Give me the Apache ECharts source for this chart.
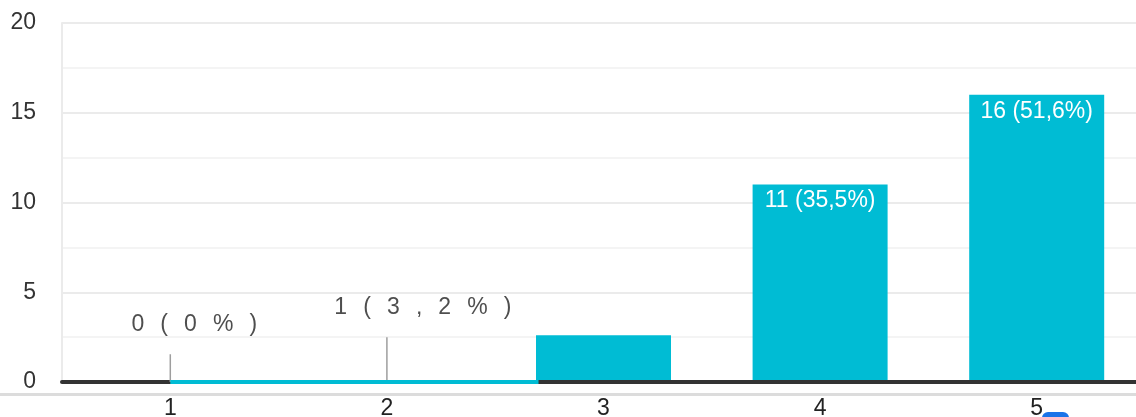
<!DOCTYPE html>
<html>
<head>
<meta charset="utf-8">
<script src="https://cdn.jsdelivr.net/npm/echarts@6/dist/echarts.min.js"></script>
<style>
html,body{margin:0;padding:0;background:#fff;}
#chart{width:1136px;height:417px;}
</style>
</head>
<body>
<div id="chart"></div>
<script>
// ---- data ----
const categories = ['1', '2', '3', '4', '5'];
const barValues = [0, 0, 2.6, 11, 16];            // drawn bar heights
const barLabels = ['', '', '', '11 (35,5%)', '16 (51,6%)'];
const noteTexts = ['0 ( 0 % )', '1 ( 3 , 2 % )'];  // annotation labels on categories 1 and 2
const noteIndex = [0, 1];
const noteStemTops = [1.55, 2.5];
const cyanBaseSpan = [0, 1.7];                     // cyan stroke along the baseline (category index units)
const yTicks = [0, 5, 10, 15, 20];

const CYAN = '#00bcd4';
const FONT = 'Arial, "Liberation Sans", sans-serif';
const spaced = s => s.replace(/ /g, '\u2002\u2009');

const chart = echarts.init(document.getElementById('chart'), null, {renderer: 'canvas'});

const stemSeries = noteIndex.map((ix, k) => ({
  type: 'line',
  xAxisIndex: 1,
  data: [[ix, 0], [ix, noteStemTops[k]]],
  symbol: 'none',
  silent: true,
  lineStyle: {color: '#9e9e9e', width: 1.5},
  z: 11,
  animation: false
}));

const option = {
  animation: false,
  backgroundColor: '#fff',
  grid: {left: 62, top: 23, width: 1083, bottom: 35, containLabel: false, outerBoundsMode: 'none'},
  xAxis: [
    {
      type: 'category',
      data: categories,
      z: 10,
      axisLine: {show: true, lineStyle: {color: '#333', width: 4}},
      axisTick: {show: false},
      axisLabel: {fontSize: 23, color: '#222', margin: 15, fontFamily: FONT},
      splitLine: {show: false}
    },
    {
      type: 'value',
      min: -0.5,
      max: 4.5,
      show: false,
      splitLine: {show: false}
    }
  ],
  yAxis: {
    type: 'value',
    min: yTicks[0],
    max: yTicks[yTicks.length - 1],
    interval: yTicks[1] - yTicks[0],
    axisLine: {show: true, onZero: false, lineStyle: {color: '#ebebeb', width: 2}},
    axisTick: {show: false},
    axisLabel: {fontSize: 23, color: '#333', margin: 26, fontFamily: FONT},
    splitLine: {show: true, lineStyle: {color: '#ebebeb', width: 2}},
    minorTick: {show: false, splitNumber: 2},
    minorSplitLine: {show: true, lineStyle: {color: '#f4f4f4', width: 2}}
  },
  series: [
    {
      type: 'bar',
      xAxisIndex: 0,
      data: barValues,
      barWidth: 135,
      itemStyle: {color: CYAN},
      z: 2,
      label: {
        show: true,
        position: 'insideTop',
        distance: 5,
        color: '#fff',
        fontSize: 23,
        fontFamily: FONT,
        formatter: p => barLabels[p.dataIndex]
      }
    },
    {
      type: 'line',
      xAxisIndex: 1,
      data: [[cyanBaseSpan[0], 0], [cyanBaseSpan[1], 0]],
      symbol: 'none',
      silent: true,
      lineStyle: {color: CYAN, width: 4},
      z: 12
    },
    ...stemSeries,
    {
      type: 'scatter',
      xAxisIndex: 1,
      symbolSize: 0,
      silent: true,
      z: 12,
      data: noteIndex.map((ix, k) => ({
        value: [ix, noteStemTops[k]],
        label: {offset: [k === 0 ? 24 : 36, 0]}
      })),
      label: {
        show: true,
        position: 'top',
        distance: 18,
        color: '#222',
        fontSize: 23,
        fontFamily: FONT,
        formatter: p => spaced(noteTexts[p.dataIndex])
      }
    }
  ],
  graphic: [
    {type: 'rect', left: 0, top: 393, shape: {width: 1136, height: 3}, style: {fill: '#dcdcdc'}, silent: true},
    {type: 'rect', left: 1042, top: 412, shape: {width: 27, height: 14, r: 6}, style: {fill: '#1a73e8'}, silent: true, z: 100}
  ]
};

chart.setOption(option);
</script>
</body>
</html>
